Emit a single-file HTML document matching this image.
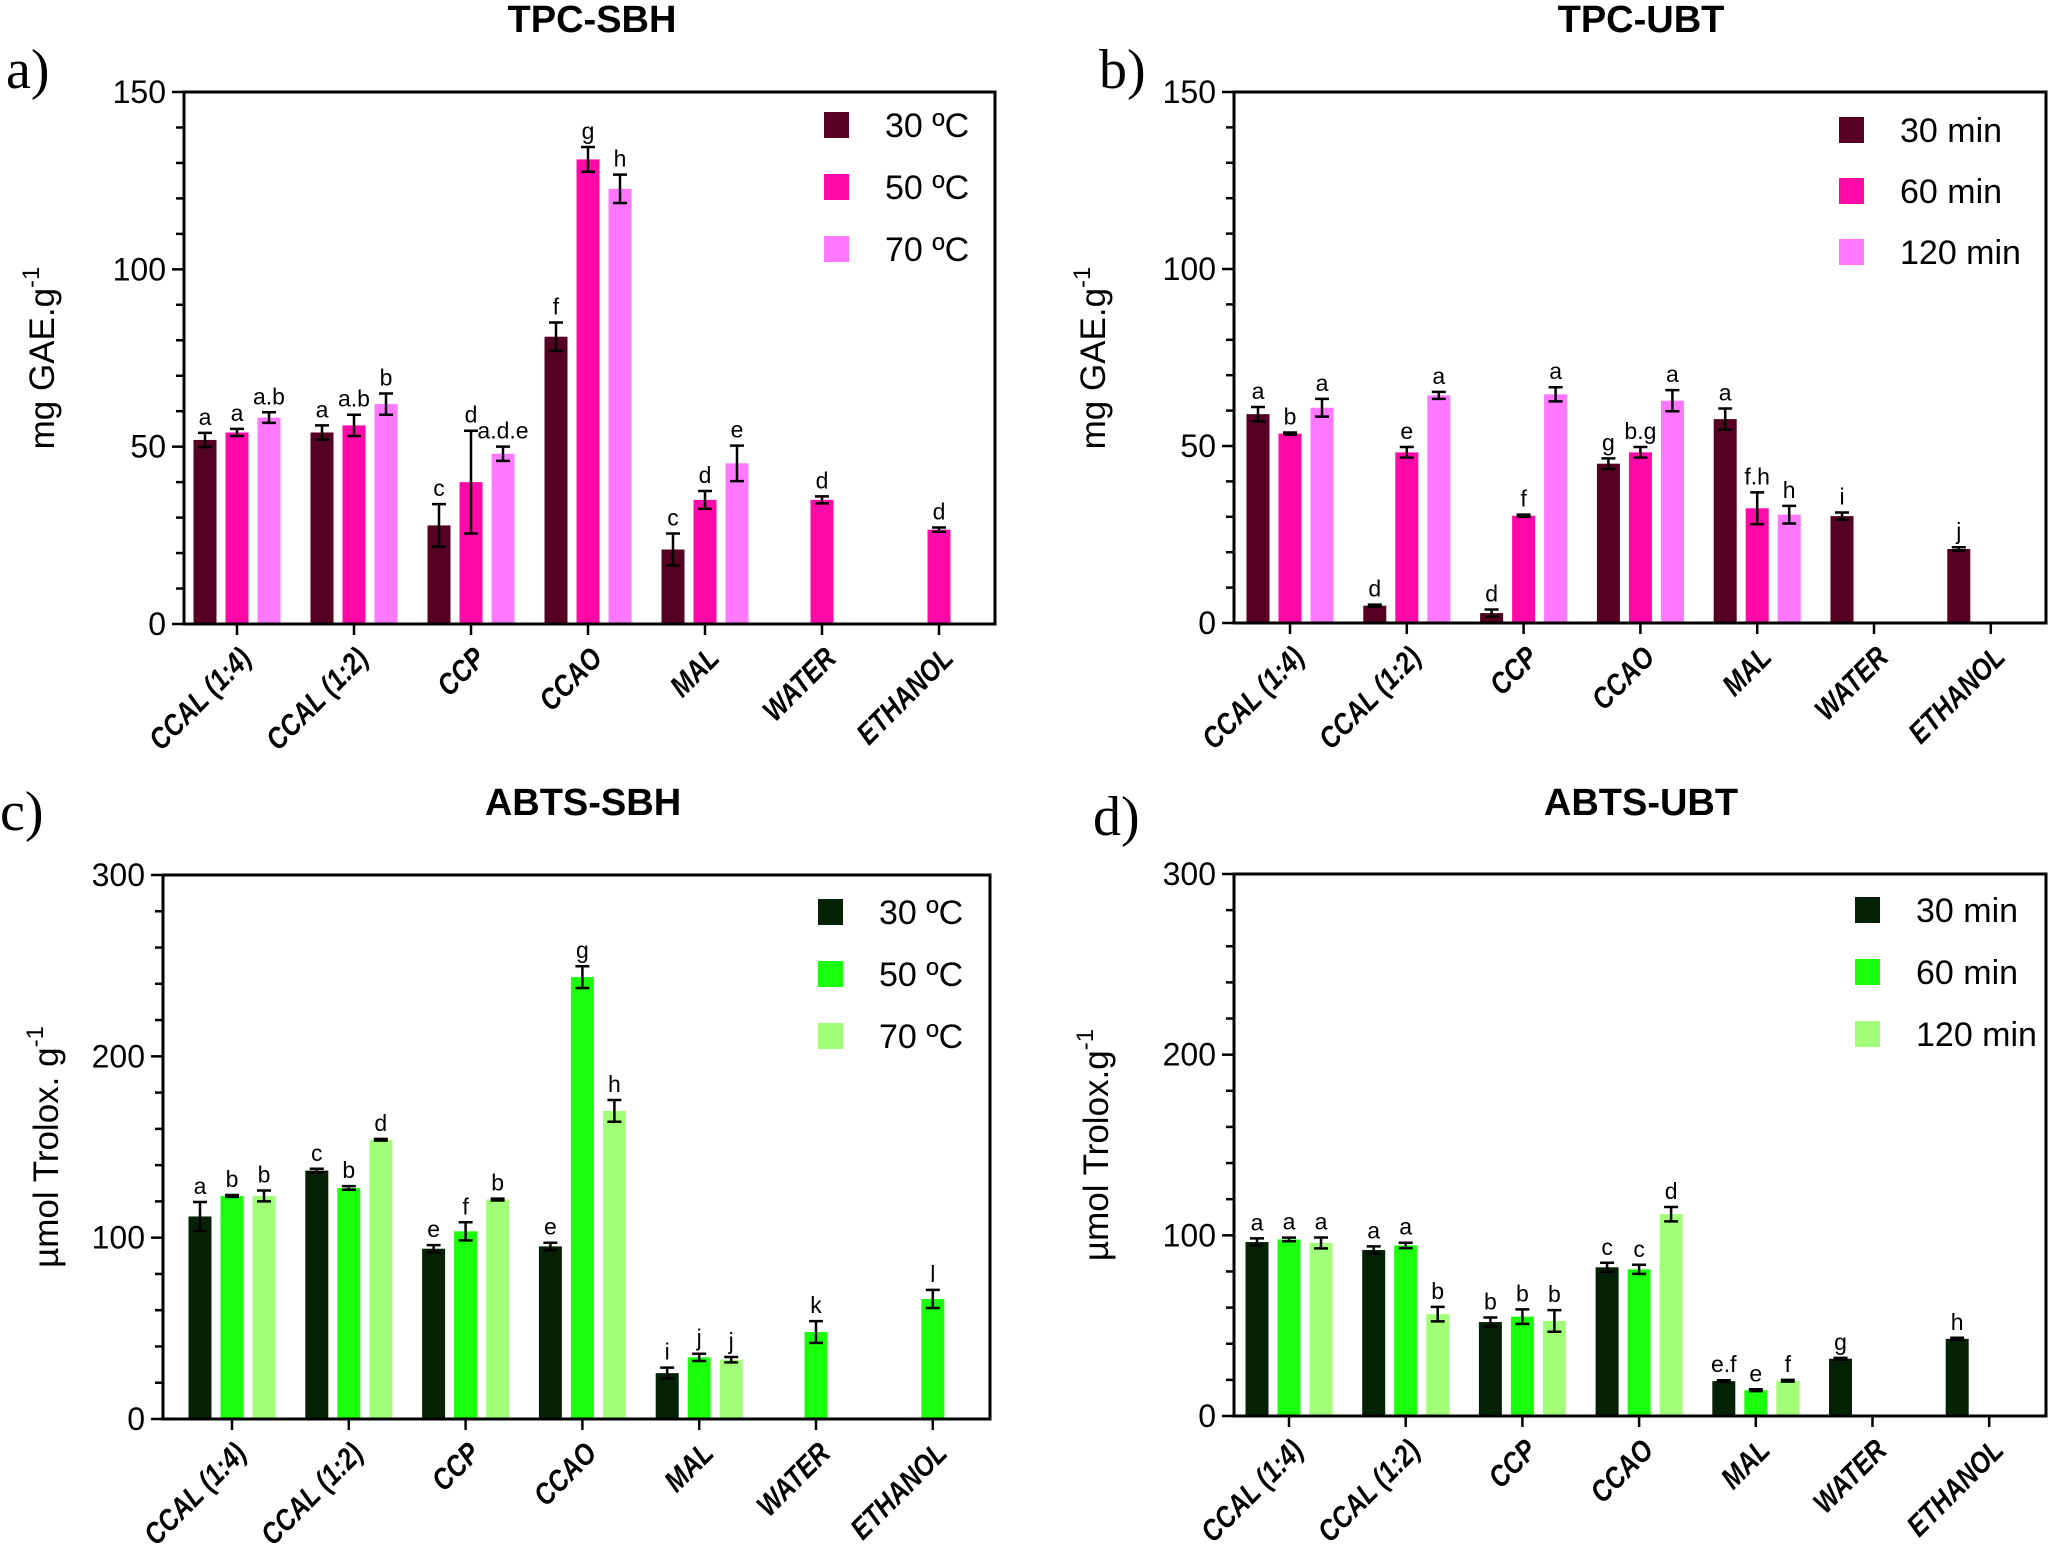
<!DOCTYPE html>
<html><head><meta charset="utf-8">
<style>
html,body{margin:0;padding:0;background:#fff;}
svg{display:block;}
text{font-family:"Liberation Sans",sans-serif;fill:#000;}
.n{font-family:"Liberation Sans Narrow","Liberation Sans",sans-serif;}
</style></head>
<body>
<svg id="fig" width="2048" height="1547" viewBox="0 0 2048 1547" xmlns="http://www.w3.org/2000/svg"></svg>
<script>
const categories = ["CCAL (1:4)","CCAL (1:2)","CCP","CCAO","MAL","WATER","ETHANOL"];
// Panel a: TPC-SBH
const aS1 = [51.9,54,27.8,81,21,null,null];
const aS2 = [54,56,40,131,35,35,26.6];
const aS3 = [58.2,62,48,122.7,45.3,null,null];
const aE1 = [2,2,6,4,4.5,0,0];
const aE2 = [1,3,14.5,3.5,2.5,1,0.6];
const aE3 = [1.5,3,2,4,5,0,0];
const aL1 = ["a","a","c","f","c","",""];
const aL2 = ["a","a.b","d","g","d","d","d"];
const aL3 = ["a.b","b","a.d.e","h","e","",""];
// Panel b: TPC-UBT
const bS1 = [59,4.9,2.8,45,57.6,30.2,20.9];
const bS2 = [53.5,48.2,30.3,48.2,32.4,null,null];
const bS3 = [60.8,64.3,64.6,62.8,30.6,null,null];
const bE1 = [2,0.3,1,1.5,3,1,0.5];
const bE2 = [0.3,1.5,0.3,1.5,4.5,0,0];
const bE3 = [2.5,1,2,3,2.5,0,0];
const bL1 = ["a","d","d","g","a","i","j"];
const bL2 = ["b","e","f","b.g","f.h","",""];
const bL3 = ["a","a","a","a","h","",""];
// Panel c: ABTS-SBH
const cS1 = [111.7,137,93.9,95.2,25.3,null,null];
const cS2 = [123,127.4,103.5,243.7,34,48,66.2];
const cS3 = [123,154,121,169.9,32.7,null,null];
const cE1 = [8,1,2,2,3,0,0];
const cE2 = [0.5,1,5,6,2,6,5];
const cE3 = [3,0.5,0.5,6,1.5,0,0];
const cL1 = ["a","c","e","e","i","",""];
const cL2 = ["b","b","f","g","j","k","l"];
const cL3 = ["b","d","b","h","j","",""];
// Panel d: ABTS-UBT
const dS1 = [96.3,91.9,52,82.3,19.3,31.7,42.7];
const dS2 = [97.7,94.4,55,81.2,14.3,null,null];
const dS3 = [95.8,56.4,52.6,111.7,19.5,null,null];
const dE1 = [2,2,2.5,2.5,0.5,0.5,0.6];
const dE2 = [1,1.5,4,2.5,0.5,0,0];
const dE3 = [3,4,6,4,0.5,0,0];
const dL1 = ["a","a","b","c","e.f","g","h"];
const dL2 = ["a","a","b","c","e","",""];
const dL3 = ["a","b","b","d","f","",""];
const tempLegend = ["30 ºC","50 ºC","70 ºC"];
const timeLegend = ["30 min","60 min","120 min"];
const ticksTPC = [0,50,100,150];
const ticksABTS = [0,100,200,300];

const NS="http://www.w3.org/2000/svg";
const svg=document.getElementById('fig');
function el(tag,attrs,parent){const e=document.createElementNS(NS,tag);for(const k in attrs)e.setAttribute(k,attrs[k]);(parent||svg).appendChild(e);return e;}

function panel(cfg){
  const g=el('g',{});
  
  
  const x0=cfg.x0,x1=cfg.x1,yTop=cfg.yTop,yZero=cfg.yZero,max=cfg.max;
  const Y=v=>yZero-(v/max)*(yZero-yTop);
  const step=cfg.step;
  const X=i=>cfg.cx0+i*step;
  const t=el('text',{x:cfg.titleX,y:cfg.titleY,'text-anchor':'middle','font-size':38,'font-weight':'bold'},g);
  t.textContent=cfg.title;
  
  
  const pl=el('text',{x:cfg.labX,y:cfg.labY,'font-size':56,style:'font-family:"Liberation Serif",serif'},g);
  pl.textContent=cfg.panelLabel;
  
  
  const yt=el('text',{x:0,y:0,'text-anchor':'middle','font-size':35,transform:`translate(${cfg.ytX},${cfg.ytY}) rotate(-90)`},g);
  
  
  const ts1=el('tspan',{},yt);ts1.textContent=cfg.ytitle;
  const ts2=el('tspan',{dy:-15,'font-size':24},yt);ts2.textContent='-1';
  const cols=cfg.colors;
  const offs=[-32,0,32];
  for(let s=0;s<3;s++){
    for(let i=0;i<categories.length;i++){
      const v=cfg.series[s][i];
      if(v===null||v===undefined)continue;
      const cx=X(i)+offs[s];
      const r=el('rect',{x:cx-11.5,y:Y(v),width:23,height:yZero-Y(v),fill:cols[s]},g);
      
      
      const e=cfg.errs[s][i];
      const yt1=Y(v+e),yb=Y(Math.max(0,v-e));
      const eb=el('path',{d:`M${cx},${yt1}V${yb}M${cx-7},${yt1}H${cx+7}M${cx-7},${yb}H${cx+7}`,stroke:'#000','stroke-width':2.5,fill:'none'},g);
      
      
      const lt=cfg.letters[s][i];
      if(lt){
        const lx=el('text',{x:cx,y:yt1-8,'text-anchor':'middle','font-size':23,class:'n'},g);
        lx.textContent=lt;
        
        
      }
    }
  }
  const ax=el('path',{d:`M${x0},${yTop}V${yZero}H${x1}V${yTop}Z`,stroke:'#000','stroke-width':3,fill:'none'},g);
  
  
  const ticks=cfg.ticks;
  const minorStep=(ticks[1]-ticks[0])/5;
  for(let v=0;v<=max+0.001;v+=minorStep){
    const isMajor=Math.abs(v/(ticks[1]-ticks[0])-Math.round(v/(ticks[1]-ticks[0])))<1e-6;
    el('line',{x1:x0-(isMajor?12:8),x2:x0,y1:Y(v),y2:Y(v),stroke:'#000','stroke-width':2.5},g);
  }
  ticks.forEach(v=>{
    const tl=el('text',{x:x0-18,y:Y(v)+11,'text-anchor':'end','font-size':32,class:'n'},g);
    tl.textContent=v;
    
    
  });
  categories.forEach((c,i)=>{
    el('line',{x1:X(i),x2:X(i),y1:yZero,y2:yZero+11,stroke:'#000','stroke-width':2.5},g);
    const xl=el('text',{x:0,y:0,'text-anchor':'end','font-size':30,'font-weight':'bold','font-style':'italic',transform:`translate(${X(i)+16},${yZero+36}) rotate(-45) scale(0.84,1)`},g);
    xl.textContent=c;
    
    
  });
  for(let s=0;s<3;s++){
    const ly=cfg.legY+s*cfg.legGap;
    const lg=el('g',{},g);
    
    
    el('rect',{x:cfg.legX,y:ly-13,width:25,height:26,fill:cols[s]},lg);
    const lt=el('text',{x:cfg.legX+61,y:ly+12,'font-size':34,class:'n'},lg);
    lt.textContent=cfg.legend[s];
  }
}
const pink=["#560022","#ff0aa9","#ff78ff"];
const green=["#062206","#1cff0c","#a2ff78"];
panel({name:'panel-a-tpc-sbh',title:'TPC-SBH',titleX:592,titleY:32,panelLabel:'a)',labX:6,labY:88,
  x0:184,x1:995,yTop:92,yZero:624,max:150,cx0:237,step:117,ticks:ticksTPC,
  ytitle:'mg GAE.g',ytX:54,ytY:358,series:[aS1,aS2,aS3],errs:[aE1,aE2,aE3],letters:[aL1,aL2,aL3],
  colors:pink,legend:tempLegend,legX:824,legY:125,legGap:62});
panel({name:'panel-b-tpc-ubt',title:'TPC-UBT',titleX:1641,titleY:32,panelLabel:'b)',labX:1099,labY:88,
  x0:1234,x1:2046,yTop:92,yZero:623,max:150,cx0:1290,step:116.8,ticks:ticksTPC,
  ytitle:'mg GAE.g',ytX:1105,ytY:358,series:[bS1,bS2,bS3],errs:[bE1,bE2,bE3],letters:[bL1,bL2,bL3],
  colors:pink,legend:timeLegend,legX:1839,legY:130,legGap:61});
panel({name:'panel-c-abts-sbh',title:'ABTS-SBH',titleX:583,titleY:815,panelLabel:'c)',labX:0,labY:830,
  x0:163,x1:990,yTop:875,yZero:1419,max:300,cx0:232,step:116.8,ticks:ticksABTS,
  ytitle:'µmol Trolox. g',ytX:58,ytY:1147,series:[cS1,cS2,cS3],errs:[cE1,cE2,cE3],letters:[cL1,cL2,cL3],
  colors:green,legend:tempLegend,legX:818,legY:912,legGap:62});
panel({name:'panel-d-abts-ubt',title:'ABTS-UBT',titleX:1641,titleY:815,panelLabel:'d)',labX:1093,labY:835,
  x0:1234,x1:2046,yTop:874,yZero:1416,max:300,cx0:1289,step:116.7,ticks:ticksABTS,
  ytitle:'µmol Trolox.g',ytX:1108,ytY:1145,series:[dS1,dS2,dS3],errs:[dE1,dE2,dE3],letters:[dL1,dL2,dL3],
  colors:green,legend:timeLegend,legX:1855,legY:910,legGap:62});
</script>
</body></html>
